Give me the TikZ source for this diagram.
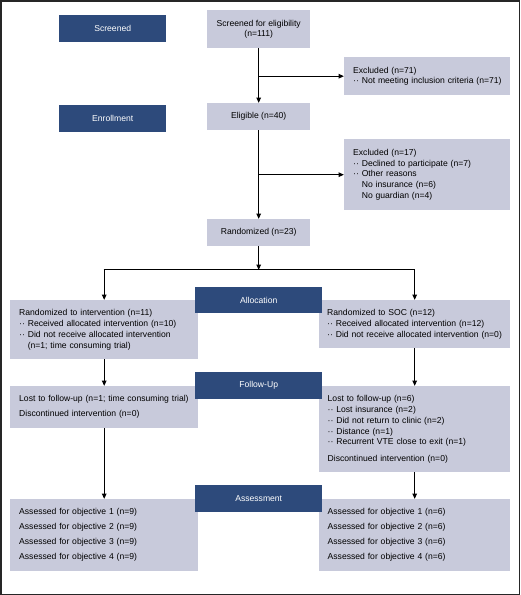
\documentclass[tikz,border=0pt]{standalone}
\usepackage{fontspec}
\setmainfont{Liberation Sans}
\usetikzlibrary{arrows.meta,calc}
\definecolor{navy}{HTML}{2D4A7B}
\definecolor{lav}{HTML}{C8CADB}
\newcommand{\dd}{··\ }
\begin{document}
\begin{tikzpicture}[x=1pt,y=-1pt,
  every node/.style={font=\fontsize{8.6}{10.8}\selectfont},
  lbox/.style={fill=lav,draw=none,anchor=north west,inner xsep=9pt,inner ysep=0pt,align=left},
  cbox/.style={fill=lav,draw=none,anchor=north west,inner sep=0pt,align=center},
  dbox/.style={fill=navy,draw=none,anchor=north west,inner sep=0pt,text=white,align=center},
  conn/.style={line width=1.3pt,black},
  arr/.style={conn,-{Triangle[length=5.5pt,width=4.5pt]}}]
\useasboundingbox (0,0) rectangle (520,595);
\draw[line width=1.5pt,black!85] (0.75,0.75) rectangle (519.25,594.25);

% light boxes
\node[cbox,minimum width=103pt,minimum height=38pt] (sfe) at (207,10) {Screened for eligibility\\(n=111)};
\node[lbox,minimum width=166pt,minimum height=38pt,text width=155pt,inner xsep=5.5pt] (ex1) at (344,57) {\hspace*{3.5pt}Excluded (n=71)\\\hspace*{3.5pt}\dd Not meeting inclusion criteria (n=71)};
\node[cbox,minimum width=103pt,minimum height=27pt] (eli) at (207,103) {Eligible (n=40)};
\node[lbox,minimum width=166pt,minimum height=71pt,text width=148pt] (ex2) at (344,139) {Excluded (n=17)\\\dd Declined to participate (n=7)\\\dd Other reasons\\\hphantom{\dd}No insurance (n=6)\\\hphantom{\dd}No guardian (n=4)};
\node[cbox,minimum width=103pt,minimum height=27pt] (ran) at (207,219) {Randomized (n=23)};

\node[lbox,minimum width=188pt,minimum height=59pt,text width=170pt] (la) at (10,300) {Randomized to intervention (n=11)\\\dd Received allocated intervention (n=10)\\\dd Did not receive allocated intervention\\\hphantom{\dd}(n=1; time consuming trial)};
\node[lbox,minimum width=191pt,minimum height=48pt,text width=183pt,inner xsep=4pt] (ra) at (319,300) {\hspace*{4pt}Randomized to SOC (n=12)\\\hspace*{4pt}\dd Received allocated intervention (n=12)\\\hspace*{4pt}\dd Did not receive allocated intervention (n=0)};

\node[lbox,minimum width=188pt,minimum height=42pt,text width=180pt,inner xsep=4pt] (lf) at (10,386) {\hspace*{5pt}Lost to follow-up (n=1; time consuming trial)\\[4.2pt]\hspace*{5pt}Discontinued intervention (n=0)};
\node[lbox,minimum width=191pt,minimum height=86pt,text width=174pt,inner xsep=8pt] (rf) at (319,386) {Lost to follow-up (n=6)\\\dd Lost insurance (n=2)\\\dd Did not return to clinic (n=2)\\\dd Distance (n=1)\\\dd Recurrent VTE close to exit (n=1)\\[5.5pt]Discontinued intervention (n=0)};

\node[lbox,minimum width=188pt,minimum height=72pt,text width=170pt] (las) at (10,499) {Assessed for objective 1 (n=9)\\[4.2pt]Assessed for objective 2 (n=9)\\[4.2pt]Assessed for objective 3 (n=9)\\[4.2pt]Assessed for objective 4 (n=9)};
\node[lbox,minimum width=191pt,minimum height=72pt,text width=174pt,inner xsep=8pt] (ras) at (319,499) {Assessed for objective 1 (n=6)\\[4.2pt]Assessed for objective 2 (n=6)\\[4.2pt]Assessed for objective 3 (n=6)\\[4.2pt]Assessed for objective 4 (n=6)};

% dark stage boxes
\node[dbox,minimum width=107pt,minimum height=27pt] (scr) at (59,15) {Screened};
\node[dbox,minimum width=107pt,minimum height=27pt] (enr) at (59,105) {Enrollment};
\node[dbox,minimum width=127pt,minimum height=26pt] (alc) at (195,287) {Allocation};
\node[dbox,minimum width=127pt,minimum height=27pt] (fup) at (195,372) {Follow-Up};
\node[dbox,minimum width=127pt,minimum height=27pt] (asm) at (195,485) {Assessment};

% connectors
\draw[arr] (sfe.south) -- (eli.north);
\draw[arr] (sfe.south |- ex1.west) -- (ex1.west);
\draw[arr] (eli.south) -- (ran.north);
\draw[arr] (eli.south |- ex2.west) -- (ex2.west);
\coordinate (split) at ($(ran.south)+(0,23)$);
\coordinate (sl) at (la.north |- split);
\coordinate (sr) at (ra.north |- split);
\draw[arr] (ran.south) -- ([yshift=-0.6pt]split);
\draw[conn] ([xshift=-0.65pt]sl) -- ([xshift=0.65pt]sr);
\draw[arr] (sl) -- (la.north);
\draw[arr] (sr) -- (ra.north);
\draw[arr] (la.south) -- (lf.north);
\draw[arr] (ra.south) -- (rf.north);
\draw[arr] (lf.south) -- (las.north);
\draw[arr] (rf.south) -- (ras.north);
\end{tikzpicture}
\end{document}
